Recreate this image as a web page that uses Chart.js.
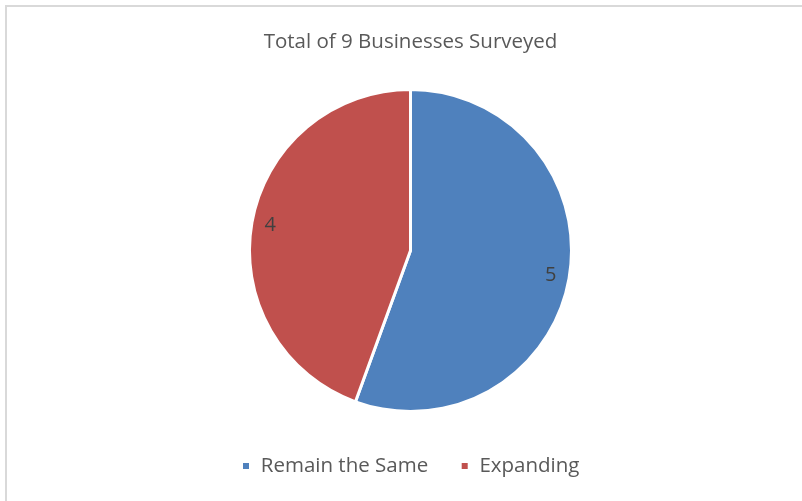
<!DOCTYPE html>
<html><head><meta charset="utf-8">
<script src="https://cdn.jsdelivr.net/npm/chart.js@4/dist/chart.umd.min.js"></script>
<style>
html,body{margin:0;padding:0;background:#fff;overflow:hidden}
#wrap{position:relative;width:802px;height:501px}
#frame{position:absolute;left:5px;top:5px;width:900px;height:600px;border-left:2px solid #d9d9d9;border-top:2px solid #d9d9d9;pointer-events:none}
canvas{position:absolute;left:0;top:0}
</style></head><body>
<div id="wrap"><canvas id="c" width="802" height="501"></canvas><div id="frame"></div></div>
<script>
const chartTitle = "Total of 9 Businesses Surveyed";
const categories = ["Remain the Same", "Expanding"];
const values = [5, 4];
const colors = ["#4F81BD", "#C0504D"];

const FONT = "'Open Sans', sans-serif";

const labelPlugin = {
  id: 'sliceLabels',
  afterDatasetsDraw(chart) {
    const ctx = chart.ctx;
    const meta = chart.getDatasetMeta(0);
    ctx.save();
    ctx.font = "20px " + FONT;
    ctx.fillStyle = "#404040";
    ctx.textAlign = "center";
    ctx.textBaseline = "middle";
    meta.data.forEach((arc, i) => {
      const p = arc.getProps(['x','y','startAngle','endAngle','outerRadius'], true);
      const mid = (p.startAngle + p.endAngle) / 2;
      const r = p.outerRadius * 0.885;
      ctx.fillText(String(values[i]), p.x + Math.cos(mid) * r, p.y + Math.sin(mid) * r);
    });
    ctx.restore();
  }
};

new Chart(document.getElementById('c'), {
  type: 'pie',
  data: {
    labels: categories,
    datasets: [{
      data: values,
      backgroundColor: colors,
      borderColor: '#ffffff',
      borderWidth: 3,
      radius: 161
    }]
  },
  options: {
    responsive: false,
    animation: false,
    events: [],
    layout: { padding: { left: 19, right: 0, top: 0, bottom: 14.75 } },
    plugins: {
      title: {
        display: true,
        text: chartTitle,
        color: '#595959',
        font: { family: FONT, size: 20.5, weight: 'normal', lineHeight: 1.2 },
        padding: { top: 29.7, bottom: 22.95 }
      },
      legend: {
        position: 'bottom',
        labels: {
          boxWidth: 9,
          boxHeight: 9,
          color: '#595959',
          font: { family: FONT, size: 20.5 },
          padding: 32
        }
      },
      tooltip: { enabled: false }
    }
  },
  plugins: [labelPlugin]
});
</script>
</body></html>
